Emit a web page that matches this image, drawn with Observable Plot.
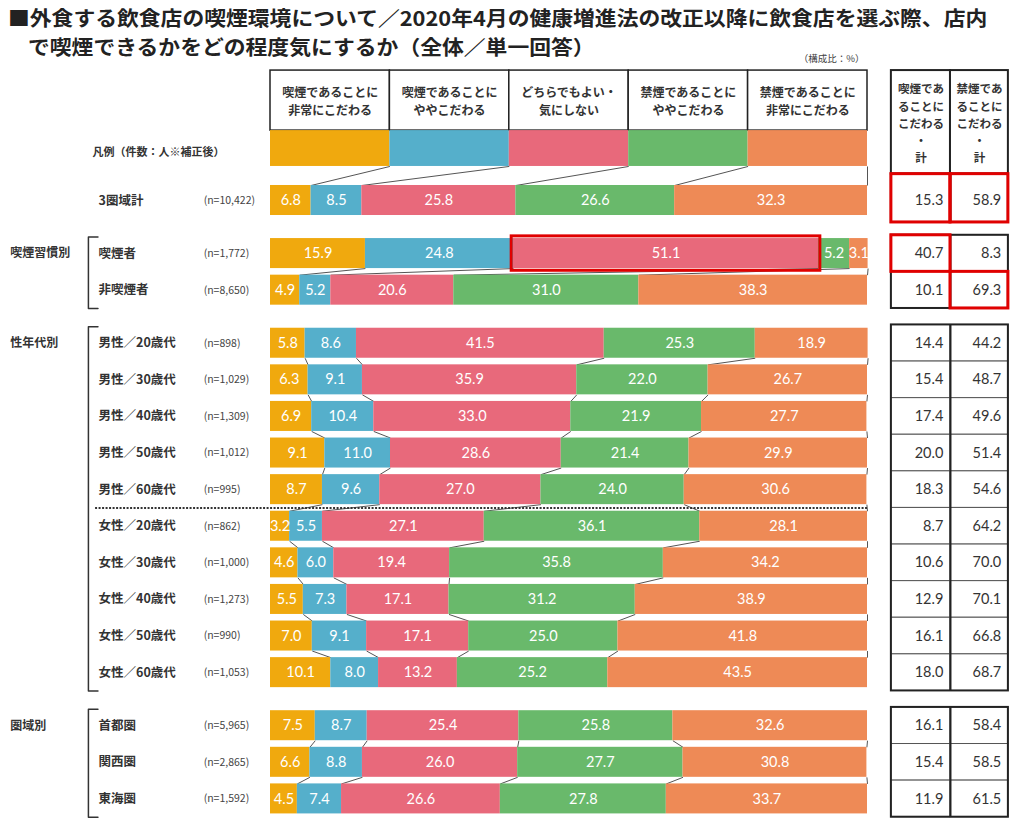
<!DOCTYPE html>
<html><head><meta charset="utf-8">
<script src="https://cdn.jsdelivr.net/npm/d3@7"></script>
<script src="https://cdn.jsdelivr.net/npm/@observablehq/plot@0.6"></script>
<style>
body{margin:0;background:#fff;font-family:'Noto Sans CJK JP',sans-serif;}
#title{position:relative;height:55px;font-weight:bold;font-size:20px;color:#222;white-space:nowrap;}
#title div{position:absolute;line-height:29px;transform:scaleX(1.09);transform-origin:0 50%;}
#title .l1{left:8px;top:3px;}
#title .l2{left:28px;top:32px;}
#chart svg{display:block;}
</style>
</head><body>
<div id="title"><div class="l1">■外食する飲食店の喫煙環境について／2020年4月の健康増進法の改正以降に飲食店を選ぶ際、店内</div><div class="l2">で喫煙できるかをどの程度気にするか（全体／単一回答）</div></div>
<div id="chart"></div>
<script>
// ---------- data ----------
const categories = ["喫煙であることに\n非常にこだわる","喫煙であることに\nややこだわる","どちらでもよい・\n気にしない","禁煙であることに\nややこだわる","禁煙であることに\n非常にこだわる"];
const colors = ["#F0A90E","#55AFCB","#E8697B","#69B96B","#EE8A56"];
const rowLabels = ["3圏域計","喫煙者","非喫煙者","男性／20歳代","男性／30歳代","男性／40歳代","男性／50歳代","男性／60歳代","女性／20歳代","女性／30歳代","女性／40歳代","女性／50歳代","女性／60歳代","首都圏","関西圏","東海圏"];
const nLabels = ["(n=10,422)","(n=1,772)","(n=8,650)","(n=898)","(n=1,029)","(n=1,309)","(n=1,012)","(n=995)","(n=862)","(n=1,000)","(n=1,273)","(n=990)","(n=1,053)","(n=5,965)","(n=2,865)","(n=1,592)"];
const rowGroups = ["total","smoke","smoke","sexage","sexage","sexage","sexage","sexage","sexage","sexage","sexage","sexage","sexage","region","region","region"];
const groupNames = {smoke:"喫煙習慣別", sexage:"性年代別", region:"圏域別"};
const v1 = [6.8,15.9,4.9,5.8,6.3,6.9,9.1,8.7,3.2,4.6,5.5,7.0,10.1,7.5,6.6,4.5];
const v2 = [8.5,24.8,5.2,8.6,9.1,10.4,11.0,9.6,5.5,6.0,7.3,9.1,8.0,8.7,8.8,7.4];
const v3 = [25.8,51.1,20.6,41.5,35.9,33.0,28.6,27.0,27.1,19.4,17.1,17.1,13.2,25.4,26.0,26.6];
const v4 = [26.6,5.2,31.0,25.3,22.0,21.9,21.4,24.0,36.1,35.8,31.2,25.0,25.2,25.8,27.7,27.8];
const v5 = [32.3,3.1,38.3,18.9,26.7,27.7,29.9,30.6,28.1,34.2,38.9,41.8,43.5,32.6,30.8,33.7];
const smokeTotal = [15.3,40.7,10.1,14.4,15.4,17.4,20.0,18.3,8.7,10.6,12.9,16.1,18.0,16.1,15.4,11.9];
const nonSmokeTotal = [58.9,8.3,69.3,44.2,48.7,49.6,51.4,54.6,64.2,70.0,70.1,66.8,68.7,58.4,58.5,61.5];
const tableHeads = ["喫煙であ\nることに\nこだわる\n・\n計","禁煙であ\nることに\nこだわる\n・\n計"];
const legendLabel = "凡例（件数：人※補正後）";
const unitLabel = "（構成比：%）";
const highlightBar = {row: 1, seg: 2};
const highlightCells = [[0,0],[0,1],[1,0],[2,1]];

// ---------- layout ----------
const W = 1024, HGT = 769;
const pxPerX = 5.97, x0px = 270;       // 0% at 270px, 100% at 867px
const pxPerRow = 36.6, row0px = 145;   // first row centre
const H = 0.41;                        // bar half height (rows)
const pos = []; {
  let p = 0;
  rowGroups.forEach((g,i)=>{ if(i>0) p += (g===rowGroups[i-1]) ? 1 : 1.45; pos.push(p); });
}
const series = [v1,v2,v3,v4,v5];
const cums = rowLabels.map((_,i)=>{ let c=0; const a=[0]; series.forEach(s=>{c+=s[i]; a.push(c);}); return a; });
const segs = [];
rowLabels.forEach((_,i)=>series.forEach((s,k)=>segs.push({i,k,x1:cums[i][k],x2:cums[i][k+1],y1:pos[i]-H,y2:pos[i]+H,y:pos[i],v:s[i]})));

const headTop=-3.55, headBot=-1.91, legBot=-0.93;
const links = [];
for(let k=1;k<=5;k++) links.push({x1:20*k,y1:legBot,x2:cums[0][k],y2:pos[0]-H});
for(let i=0;i<rowLabels.length-1;i++){
  if(rowGroups[i]!==rowGroups[i+1]) continue;
  for(let k=1;k<=5;k++) links.push({x1:cums[i][k],y1:pos[i]+H,x2:cums[i+1][k],y2:pos[i+1]-H});
}

const tX = [104.0, 113.9, 123.6];
const cellTop = i => rowGroups[i]==="total" ? -0.72 : pos[i]-0.5;
const cellBot = i => rowGroups[i]==="total" ? 0.6 : pos[i]+0.5;
const cells = [];
rowLabels.forEach((_,i)=>{
  cells.push({c:0,i,x1:tX[0],x2:tX[1],y1:cellTop(i),y2:cellBot(i),v:smokeTotal[i]});
  cells.push({c:1,i,x1:tX[1],x2:tX[2],y1:cellTop(i),y2:cellBot(i),v:nonSmokeTotal[i]});
});
const groupsList = [...new Set(rowGroups)].map(g=>{
  const idx = rowGroups.map((gg,i)=>gg===g?i:-1).filter(i=>i>=0);
  return {g, first: idx[0], last: idx[idx.length-1]};
});
const outlines = groupsList.map(o=>({x1:tX[0],x2:tX[2],y1:cellTop(o.first),y2:cellBot(o.last)}));
const midLines = groupsList.map(o=>({x:tX[1],y1:cellTop(o.first),y2:cellBot(o.last)}));

const bx = -30.5;
const brackets = [];
groupsList.filter(o=>o.g!=="total").forEach(o=>{
  const t = pos[o.first]-0.45, b = pos[o.last]+0.5;
  [[bx+1.6,t],[bx,t],[bx,b],[bx+1.6,b]].forEach(([x,y])=>brackets.push({g:o.g,x,y}));
});
const sepIdx = rowLabels.findIndex(l=>l.startsWith("女性"));
const sepY = (pos[sepIdx-1]+pos[sepIdx])/2;

const hb = segs.find(s=>s.i===highlightBar.row && s.k===highlightBar.seg);

const font = "'Noto Sans CJK JP', sans-serif";
const numFont = "Lato, 'Noto Sans CJK JP', sans-serif";

const chart = Plot.plot({
  width: W, height: HGT, margin: 0,
  x: {domain: [-x0px/pxPerX, (W-x0px)/pxPerX], range: [0, W], axis: null},
  y: {domain: [-row0px/pxPerRow, (HGT-row0px)/pxPerRow], range: [0, HGT], axis: null},
  style: {fontFamily: font, background: "white", overflow: "visible"},
  marks: [
    // header boxes
    Plot.rect(categories, {x1:(d,k)=>20*k, x2:(d,k)=>20*(k+1), y1:headTop, y2:headBot, fill:"white", stroke:"#222", strokeWidth:1.5}),
    Plot.text(categories, {x:(d,k)=>20*k+10, y:(headTop+headBot)/2, text:d=>d, fontSize:12, fontWeight:"bold", fill:"#333", lineHeight:1.45}),
    // legend strip
    Plot.rect(categories, {x1:(d,k)=>20*k, x2:(d,k)=>20*(k+1), y1:headBot, y2:legBot, fill:(d,k)=>colors[k]}),
    Plot.text([legendLabel], {x:-29.8, y:-1.3, text:d=>d, textAnchor:"start", fontSize:11, fontWeight:"bold", fill:"#333"}),
    Plot.text([unitLabel], {x:99.5, y:-3.88, text:d=>d, textAnchor:"end", fontSize:9.5, fill:"#444"}),
    // connectors
    Plot.link(links, {x1:"x1", y1:"y1", x2:"x2", y2:"y2", stroke:"#555", strokeWidth:1}),
    // bars
    Plot.rect(segs, {x1:"x1", x2:"x2", y1:"y1", y2:"y2", fill:d=>colors[d.k]}),
    Plot.text(segs, {x:d=>(d.x1+d.x2)/2, y:"y", text:d=>d.v.toFixed(1), fill:"white", fontSize:14.5, fontFamily:numFont}),
    // highlight bar
    Plot.rect([hb], {x1:d=>d.x1-0.3, x2:d=>d.x2+0.3, y1:d=>d.y1-0.06, y2:d=>d.y2+0.06, fill:"none", stroke:"#E00000", strokeWidth:3}),
    // separator
    Plot.ruleY([sepY], {x1:-29.3, x2:100, stroke:"#333", strokeWidth:2, strokeDasharray:"2,1.5"}),
    // left labels
    Plot.text(groupsList.filter(o=>o.g!=="total"), {x:-43.6, y:o=>pos[o.first], text:o=>groupNames[o.g], textAnchor:"start", fontSize:12, fontWeight:"bold", fill:"#333"}),
    Plot.line(brackets, {x:"x", y:"y", z:"g", stroke:"#333", strokeWidth:1.5}),
    Plot.text(rowLabels, {x:-28.8, y:(d,i)=>pos[i], text:d=>d, textAnchor:"start", fontSize:12.5, fontWeight:"bold", fill:"#333"}),
    Plot.text(nLabels, {x:-11.2, y:(d,i)=>pos[i], text:d=>d, textAnchor:"start", fontSize:10.5, fill:"#444"}),
    // right table
    Plot.rect(tableHeads, {x1:(d,c)=>tX[c], x2:(d,c)=>tX[c+1], y1:headTop, y2:-0.72, fill:"white", stroke:"#222", strokeWidth:2}),
    Plot.text(tableHeads, {x:(d,c)=>(tX[c]+tX[c+1])/2, y:(headTop-0.72)/2, text:d=>d, fontSize:11.5, fontWeight:"bold", fill:"#333", lineHeight:1.5}),
    Plot.rect(cells, {x1:"x1", x2:"x2", y1:"y1", y2:"y2", fill:"white", stroke:"#555", strokeWidth:1}),
    Plot.rect(outlines, {x1:"x1", x2:"x2", y1:"y1", y2:"y2", fill:"none", stroke:"#222", strokeWidth:2}),
    Plot.ruleX(midLines, {x:"x", y1:"y1", y2:"y2", stroke:"#222", strokeWidth:2}),
    Plot.rect(highlightCells.map(([i,c])=>cells.find(d=>d.i===i&&d.c===c)), {x1:"x1", x2:"x2", y1:"y1", y2:"y2", fill:"none", stroke:"#E00000", strokeWidth:3}),
    Plot.text(cells, {x:d=>d.x2-1.2, y:d=>pos[d.i], text:d=>d.v.toFixed(1), textAnchor:"end", fontSize:14.5, fill:"#333", fontFamily:numFont})
  ]
});
document.getElementById("chart").appendChild(chart);
</script>
</body></html>
